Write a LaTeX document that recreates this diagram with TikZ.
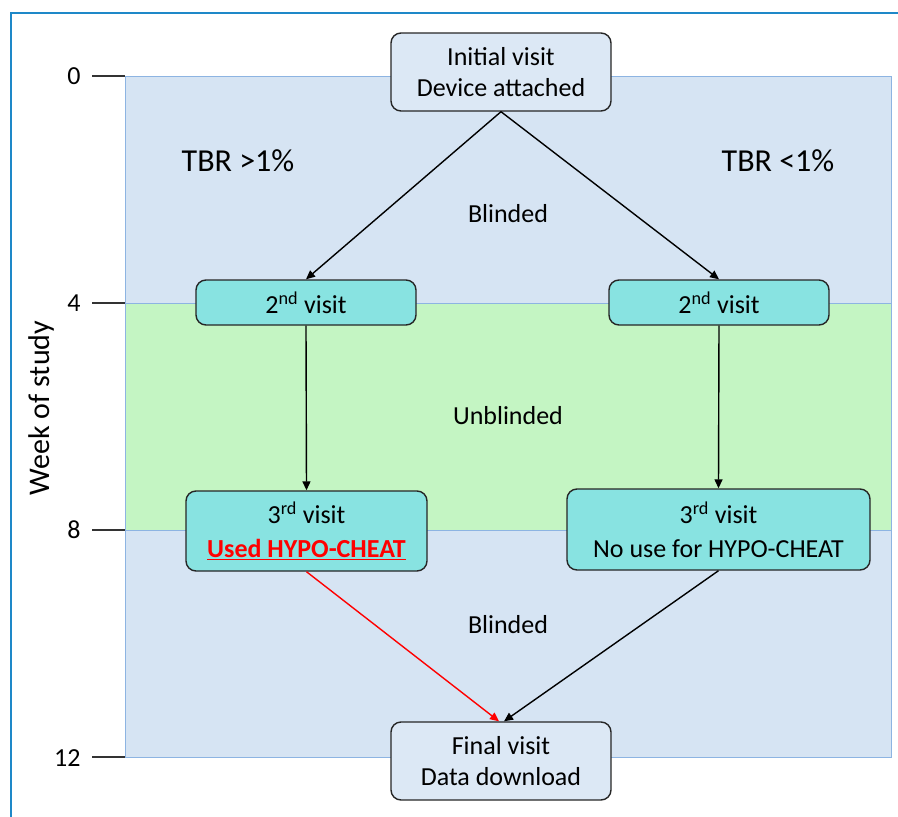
\documentclass[tikz,border=0pt]{standalone}
\usepackage{fontspec}
\setmainfont{Carlito}
\usetikzlibrary{arrows.meta}
\definecolor{bandblue}{HTML}{D6E4F3}
\definecolor{bandgreen}{HTML}{C4F5C3}
\definecolor{bandline}{HTML}{8DB4E2}
\definecolor{framecol}{HTML}{1E88C8}
\definecolor{turq}{HTML}{88E3E1}
\definecolor{paleblue}{HTML}{DCE8F5}
\definecolor{hred}{HTML}{FF0000}
\tikzset{
  visitbox/.style={draw=black!85, line width=1.4pt, rounded corners=10pt, align=center, inner sep=0pt, font=\fontsize{26}{31}\selectfont},
  endbox/.style={visitbox, fill=paleblue, minimum width=220pt, minimum height=78pt},
  midbox/.style={visitbox, fill=turq},
  flow/.style={line width=1.4pt, -{Triangle[length=9pt,width=8pt]}},
  tick/.style={line width=1.2pt, black!80},
  ticklab/.style={anchor=east, font=\fontsize{26}{30}\selectfont},
  bandlab/.style={font=\fontsize{26}{31}\selectfont},
  tbr/.style={font=\fontsize{32}{38}\selectfont}
}
\begin{document}
\begin{tikzpicture}[x=1pt,y=-1pt]
\useasboundingbox (0,0) rectangle (898,817);
% frame
\begin{scope}
\clip (0,0) rectangle (898,817);
\draw[framecol, line width=2.2pt] (11,830) -- (11,13) -- (920,13);
\end{scope}
% bands
\fill[bandblue] (125,76) rectangle (891,303);
\fill[bandgreen] (125,303) rectangle (891,530);
\fill[bandblue] (125,530) rectangle (891,757);
\draw[bandline, line width=0.9pt] (125,76) rectangle (891,757);
\draw[bandline, line width=0.9pt] (125,303) -- (891,303);
\draw[bandline, line width=0.9pt] (125,530) -- (891,530);
% ticks
\draw[tick] (92,76) -- (125,76);
\draw[tick] (92,303) -- (125,303);
\draw[tick] (92,530) -- (125,530);
\draw[tick] (92,757) -- (125,757);
\node[ticklab] (t0) at (84,76) {0};
\node[ticklab] (t4) at (84,303) {4};
\node[ticklab] (t8) at (84,530) {8};
\node[ticklab] (t12) at (84,758) {12};
\node[rotate=90, font=\fontsize{30}{36}\selectfont] (axis) at (42,408) {Week of study};
% labels
\node[tbr] (tbrl) at (238,161) {TBR >1\%};
\node[tbr] (tbrr) at (778,161) {TBR <1\%};
\node[bandlab] (bl1) at (508,214) {Blinded};
\node[bandlab] (ubl) at (508,416) {Unblinded};
\node[bandlab] (bl2) at (508,625) {Blinded};
% nodes
\node[endbox] (init) at (501,72) {Initial visit\\Device attached};
\node[midbox, minimum width=220pt, minimum height=45pt] (v2l) at (306,302.5) {2\textsuperscript{nd} visit};
\node[midbox, minimum width=220pt, minimum height=45pt] (v2r) at (719,302.5) {2\textsuperscript{nd} visit};
\node[midbox, minimum width=241pt, minimum height=80pt] (v3l) at (306.5,531) {3\textsuperscript{rd} visit\\[3pt]{\color{hred}\bfseries\underline{Used HYPO-CHEAT}}};
\node[midbox, minimum width=303pt, minimum height=81pt] (v3r) at (718.5,529.5) {3\textsuperscript{rd} visit\\[3pt]No use for HYPO-CHEAT};
\node[endbox] (final) at (501,761) {Final visit\\Data download};
% connectors
\draw[flow] (init.south) -- (v2l.north);
\draw[flow] (init.south) -- (v2r.north);
\draw[flow] (v2l.south) -- (v3l.north);
\draw[flow] (v2r.south) -- (v3r.north);
\draw[flow, hred] (v3l.south) -- ([xshift=-2pt]final.north);
\draw[flow] (v3r.south) -- ([xshift=3pt]final.north);
\end{tikzpicture}
\end{document}
